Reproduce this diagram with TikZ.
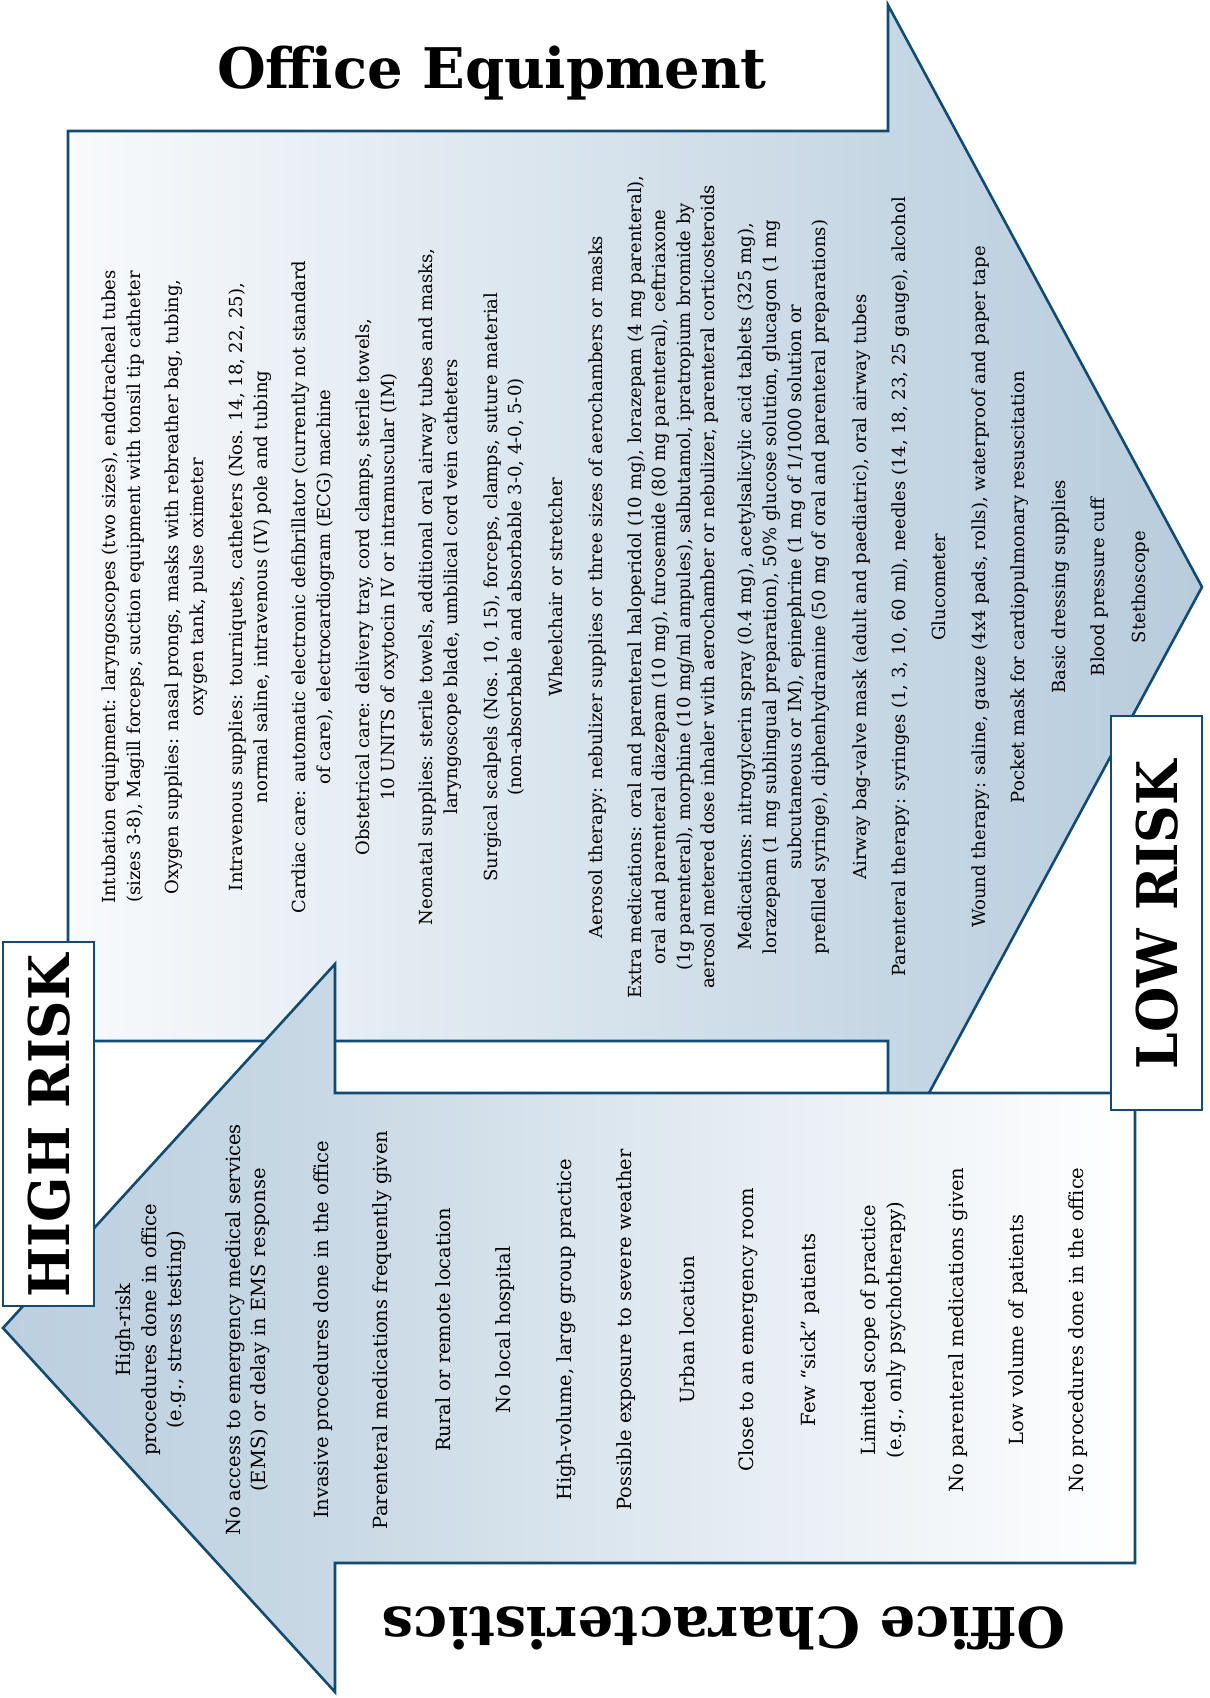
\documentclass[tikz,border=0pt]{standalone}
\usepackage{fontspec}
\setmainfont{DejaVu Serif}
\usepackage{graphicx}
\definecolor{strokec}{HTML}{124B71}
\definecolor{upA}{HTML}{F8FAFC}
\definecolor{upM}{HTML}{DDE7EF}
\definecolor{upB}{HTML}{C6D7E4}
\definecolor{upC}{HTML}{B8CCDD}
\definecolor{loA}{HTML}{BCCFDF}
\definecolor{loB}{HTML}{C9D9E5}
\definecolor{loM}{HTML}{E3EBF2}
\definecolor{loC}{HTML}{FFFFFF}
\pgfdeclarehorizontalshading{upsh}{100bp}{color(0bp)=(upA); color(25bp)=(upA); color(44bp)=(upM); color(61bp)=(upB); color(75bp)=(upC); color(100bp)=(upC)}
\pgfdeclarehorizontalshading{losh}{100bp}{color(0bp)=(loA); color(25bp)=(loA); color(40bp)=(loB); color(56bp)=(loM); color(75bp)=(loC); color(100bp)=(loC)}
\newcommand\ttlfont{\fontsize{56}{60}\selectfont\bfseries}
\tikzset{
  arrowline/.style={draw=strokec, line width=2.6pt, line join=miter},
  riskbox/.style={draw=strokec, fill=white, line width=2.6pt},
  uptxt/.style={rotate=90, align=center, inner sep=0pt, font=\fontsize{18}{24.6}\selectfont, text=black},
  lotxt/.style={rotate=90, align=center, inner sep=0pt, font=\fontsize{19.5}{25.5}\selectfont, text=black},
  ttl/.style={inner sep=0pt, font=\ttlfont, anchor=base}
}
\begin{document}
\begin{tikzpicture}[x=1pt,y=-1pt]
\useasboundingbox (0,0) rectangle (1210,1698);
% upper arrow (Office Equipment)
\shadedraw[shading=upsh, arrowline] (68,131) -- (888,131) -- (888,5) -- (1202,587) -- (888,1169) -- (888,1041) -- (68,1041) -- cycle;
% lower arrow (Office Characteristics)
\shadedraw[shading=losh, arrowline] (1135,1093) -- (335,1093) -- (335,964) -- (3,1328) -- (335,1692) -- (335,1563) -- (1135,1563) -- cycle;
% risk boxes
\draw[riskbox] (3,942) rectangle (94,1306);
\draw[riskbox] (1111,716) rectangle (1202,1110);

% titles
\node[ttl] (tEq) at (492,88) {Office Equipment};
\node[ttl, rotate=180] (tCh) at (724,1607) {Office Characteristics};
\node[ttl, rotate=90] (tHi) at (69,1126) {\scalebox{0.95}[1]{HIGH RISK}};
\node[ttl, rotate=90] (tLo) at (1177,915) {\scalebox{0.93}[1]{LOW RISK}};

% upper arrow texts
\node[uptxt] (u1) at (123,587) {Intubation equipment: laryngoscopes (two sizes), endotracheal tubes\\(sizes 3-8), Magill forceps, suction equipment with tonsil tip catheter};
\node[uptxt] (u2) at (186,587) {Oxygen supplies: nasal prongs, masks with rebreather bag, tubing,\\oxygen tank, pulse oximeter};
\node[uptxt] (u3) at (250,587) {Intravenous supplies: tourniquets, catheters (Nos. 14, 18, 22, 25),\\normal saline, intravenous (IV) pole and tubing};
\node[uptxt] (u4) at (313,587) {Cardiac care: automatic electronic defibrillator (currently not standard\\of care), electrocardiogram (ECG) machine};
\node[uptxt] (u5) at (377,587) {Obstetrical care: delivery tray, cord clamps, sterile towels,\\10 UNITS of oxytocin IV or intramuscular (IM)};
\node[uptxt] (u6) at (440,587) {Neonatal supplies: sterile towels, additional oral airway tubes and masks,\\laryngoscope blade, umbilical cord vein catheters};
\node[uptxt] (u7) at (504,587) {Surgical scalpels (Nos. 10, 15), forceps, clamps, suture material\\(non-absorbable and absorbable 3-0, 4-0, 5-0)};
\node[uptxt] (u8) at (556,587) {Wheelchair or stretcher};
\node[uptxt] (u9) at (598,587) {Aerosol therapy: nebulizer supplies or three sizes of aerochambers or masks};
\node[uptxt] (u10) at (673,587) {Extra medications: oral and parenteral haloperidol (10 mg), lorazepam (4 mg parenteral),\\oral and parenteral diazepam (10 mg), furosemide (80 mg parenteral), ceftriaxone\\(1g parenteral), morphine (10 mg/ml ampules), salbutamol, ipratropium bromide by\\aerosol metered dose inhaler with aerochamber or nebulizer, parenteral corticosteroids};
\node[uptxt] (u11) at (784,587) {Medications: nitrogylcerin spray (0.4 mg), acetylsalicylic acid tablets (325 mg),\\lorazepam (1 mg sublingual preparation), 50\% glucose solution, glucagon (1 mg\\subcutaneous or IM), epinephrine (1 mg of 1/1000 solution or\\prefilled syringe), diphenhydramine (50 mg of oral and parenteral preparations)};
\node[uptxt] (u12) at (862,587) {Airway bag-valve mask (adult and paediatric), oral airway tubes};
\node[uptxt] (u13) at (901,587) {Parenteral therapy: syringes (1, 3, 10, 60 ml), needles (14, 18, 23, 25 gauge), alcohol};
\node[uptxt] (u14) at (939,587) {Glucometer};
\node[uptxt] (u15) at (981,587) {Wound therapy: saline, gauze (4x4 pads, rolls), waterproof and paper tape};
\node[uptxt] (u16) at (1020,587) {Pocket mask for cardiopulmonary resuscitation};
\node[uptxt] (u17) at (1061,587) {Basic dressing supplies};
\node[uptxt] (u18) at (1100,587) {Blood pressure cuff};
\node[uptxt] (u19) at (1141,587) {Stethoscope};

% lower arrow texts
\node[lotxt] (l1) at (151,1330) {High-risk\\procedures done in office\\(e.g., stress testing)};
\node[lotxt] (l2) at (248,1330) {No access to emergency medical services\\(EMS) or delay in EMS response};
\node[lotxt] (l3) at (323,1330) {Invasive procedures done in the office};
\node[lotxt] (l4) at (382,1330) {Parenteral medications frequently given};
\node[lotxt] (l5) at (443,1330) {Rural or remote location};
\node[lotxt] (l6) at (505,1330) {No local hospital};
\node[lotxt] (l7) at (566,1330) {High-volume, large group practice};
\node[lotxt] (l8) at (626,1330) {Possible exposure to severe weather};
\node[lotxt] (l9) at (687,1330) {Urban location};
\node[lotxt] (l10) at (748,1330) {Close to an emergency room};
\node[lotxt] (l11) at (810,1330) {Few “sick” patients};
\node[lotxt] (l12) at (883,1330) {Limited scope of practice\\(e.g., only psychotherapy)};
\node[lotxt] (l13) at (958,1330) {No parenteral medications given};
\node[lotxt] (l14) at (1018,1330) {Low volume of patients};
\node[lotxt] (l15) at (1078,1330) {No procedures done in the office};
\end{tikzpicture}
\end{document}
